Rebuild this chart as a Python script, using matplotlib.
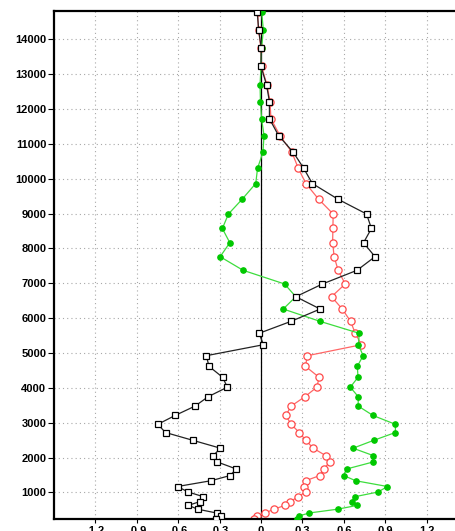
"""Vertical profiles of three series against height (GrADS-style panel)."""

import matplotlib

matplotlib.use("Agg", force=True)
import matplotlib.pyplot as plt

# Model levels (m), top to bottom.
heights = [
    14783, 14267, 13742, 13220, 12697, 12215, 11722, 11240, 10758, 10302,
    9863, 9410, 8988, 8572, 8164, 7763, 7373, 6980, 6615, 6262,
    5909, 5565, 5238, 4923, 4618, 4303, 4019, 3746, 3479, 3207,
    2954, 2719, 2495, 2269, 2059, 1873, 1672, 1485, 1336, 1170,
    1012, 877, 739, 630, 519, 410, 324, 229,
]

black_vals = [
    -0.027, -0.017, 0.002, 0.000, 0.040, 0.061, 0.061, 0.127, 0.234, 0.309,
    0.372, 0.559, 0.765, 0.800, 0.743, 0.826, 0.696, 0.445, 0.252, 0.429,
    0.218, -0.014, 0.018, -0.396, -0.377, -0.278, -0.244, -0.383, -0.477, -0.623,
    -0.748, -0.692, -0.494, -0.294, -0.345, -0.316, -0.179, -0.224, -0.362, -0.605,
    -0.528, -0.417, -0.441, -0.526, -0.459, -0.322, -0.293, -0.325,
]

red_vals = [
    -0.025, -0.018, 0.000, 0.004, 0.043, 0.065, 0.072, 0.137, 0.224, 0.270,
    0.325, 0.418, 0.523, 0.521, 0.519, 0.530, 0.559, 0.610, 0.511, 0.589,
    0.649, 0.683, 0.728, 0.336, 0.322, 0.421, 0.405, 0.318, 0.219, 0.179,
    0.219, 0.277, 0.325, 0.378, 0.468, 0.499, 0.453, 0.427, 0.323, 0.311,
    0.323, 0.270, 0.213, 0.174, 0.094, 0.029, -0.031, -0.051,
]

green_vals = [
    0.005, 0.017, 0.004, 0.000, -0.007, -0.004, 0.004, 0.022, 0.014, -0.025,
    -0.038, -0.137, -0.236, -0.280, -0.226, -0.296, -0.130, 0.171, 0.252, 0.161,
    0.427, 0.712, 0.706, 0.740, 0.698, 0.703, 0.647, 0.705, 0.704, 0.812,
    0.974, 0.974, 0.817, 0.667, 0.812, 0.812, 0.620, 0.600, 0.685, 0.916,
    0.848, 0.680, 0.656, 0.699, 0.555, 0.349, 0.275, 0.262,
]

x_ticks = [-1.2, -0.9, -0.6, -0.3, 0, 0.3, 0.6, 0.9, 1.2]
x_tick_labels = ["-1.2", "-0.9", "-0.6", "-0.3", "0", "0.3", "0.6", "0.9", "1.2"]
y_ticks = list(range(1000, 15000, 1000))

W, H = 456, 531


def main():
  fig = plt.figure(figsize=(W / 100, H / 100), dpi=100)
  # the panel runs past the right edge of the picture, as in the source crop
  left, right, top, bottom = 54, 468, 11, 519.3
  ax = fig.add_axes([left / W, (H - bottom) / H, (right - left) / W, (bottom - top) / H])
  ax.set_xlim(-1.5, 1.5)
  ax.set_ylim(229, 14812)

  grid_kw = dict(color="#a8a8a8", linewidth=0.8, dashes=(1, 2.8), zorder=0)
  for t in x_ticks:
    ax.axvline(t, **grid_kw)
  for t in y_ticks:
    ax.axhline(t, **grid_kw)
  ax.axvline(0, color="black", linewidth=0.9, zorder=1)

  ax.plot(red_vals, heights, color="#ff6666", linewidth=0.9, marker="o",
          markersize=5.2, markerfacecolor="white", markeredgecolor="#ff4a4a",
          markeredgewidth=0.9, zorder=2)
  ax.plot(green_vals, heights, color="#3ddd3d", linewidth=0.9, marker="o",
          markersize=3.8, markerfacecolor="#00c800", markeredgecolor="#00c800",
          zorder=3)
  ax.plot(black_vals, heights, color="#222222", linewidth=0.9, marker="s",
          markersize=5.0, markerfacecolor="white", markeredgecolor="black",
          markeredgewidth=0.9, zorder=4)

  ax.set_xticks(x_ticks)
  ax.set_xticklabels(x_tick_labels)
  ax.set_yticks(y_ticks)
  ax.set_yticklabels([str(t) for t in y_ticks])
  for lab in ax.get_xticklabels() + ax.get_yticklabels():
    lab.set_fontfamily("Liberation Sans")
    lab.set_fontweight("bold")
    lab.set_fontsize(8)
  ax.tick_params(axis="y", direction="out", length=4, width=0.8, pad=1.5)
  ax.tick_params(axis="x", direction="out", length=3, width=0.8, pad=2)

  for side in ("left", "top", "bottom", "right"):
    ax.spines[side].set_linewidth(1.6)
  ax.set_axisbelow(True)

  fig.savefig("out.png", dpi=100)
  plt.close(fig)


if __name__ == "__main__":
  main()
